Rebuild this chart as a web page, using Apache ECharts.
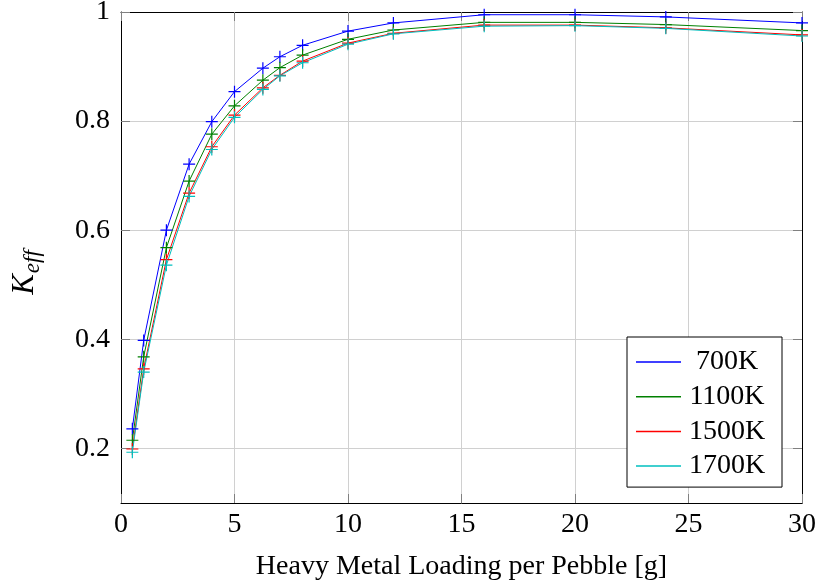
<!DOCTYPE html>
<html><head><meta charset="utf-8">
<script src="https://cdn.jsdelivr.net/npm/echarts@6/dist/echarts.min.js"></script>
<style>html,body{margin:0;padding:0;background:#fff}#c{width:817px;height:588px}</style>
</head><body><div id="c"></div>
<script>
const loading = [0.5, 1, 2, 3, 4, 5, 6.25, 7, 8, 10, 12, 16, 20, 24, 30];
const k700  = [0.236, 0.398, 0.600, 0.721, 0.799, 0.854, 0.897, 0.918, 0.939, 0.965, 0.980, 0.995, 0.995, 0.991, 0.980];
const k1100 = [0.215, 0.368, 0.568, 0.690, 0.776, 0.828, 0.875, 0.898, 0.921, 0.950, 0.967, 0.981, 0.981, 0.977, 0.966];
const k1500 = [0.199, 0.346, 0.546, 0.668, 0.753, 0.811, 0.861, 0.884, 0.910, 0.943, 0.961, 0.976, 0.976, 0.971, 0.958];
const k1700 = [0.193, 0.340, 0.536, 0.662, 0.748, 0.807, 0.858, 0.883, 0.907, 0.941, 0.960, 0.974, 0.975, 0.970, 0.956];
const seriesNames = ['700K', '1100K', '1500K', '1700K'];
const seriesColors = ['#0000ff', '#008000', '#ff0000', '#00bfbf'];
const yTicks = [0.2, 0.4, 0.6, 0.8, 1];
const xTitle = 'Heavy Metal Loading per Pebble [g]';

const FONT = 'Liberation Serif';
const plus = 'path://M0,5.4H5.4V0H6.6V5.4H12V6.6H6.6V12H5.4V6.6H0Z';
const values = [k700, k1100, k1500, k1700];

const tick = {show: true, inside: true, length: 9, lineStyle: {color: '#808080', width: 1}};
const line = {show: true, onZero: false, lineStyle: {color: '#000', width: 1}};
const split = {show: true, lineStyle: {color: '#d0d0d0', width: 1}};

const chart = echarts.init(document.getElementById('c'), null, {renderer: 'canvas'});
chart.setOption({
  backgroundColor: '#fff',
  animation: false,
  grid: {left: 121, right: 15, top: 12, bottom: 85, containLabel: false, outerBoundsMode: 'none'},
  xAxis: [{
    type: 'value', min: 0, max: 30, interval: 5, position: 'bottom',
    name: xTitle, nameLocation: 'middle', nameGap: 50,
    nameTextStyle: {fontFamily: FONT, fontSize: 28, color: '#000'},
    axisLine: line, axisTick: tick, splitLine: split,
    axisLabel: {fontFamily: FONT, fontSize: 28, color: '#000', margin: 8}
  }, {
    type: 'value', min: 0, max: 30, interval: 5, position: 'top',
    axisLine: line, axisTick: tick, splitLine: {show: false}, axisLabel: {show: false}
  }],
  yAxis: [{
    type: 'value', min: 0.1, max: 1, position: 'left',
    name: '{k|K}{s|eff}', nameLocation: 'middle', nameGap: 77, nameRotate: 90,
    nameTextStyle: {padding: [0, 30, 0, 0], rich: {
      k: {fontFamily: FONT, fontStyle: 'italic', fontSize: 31, color: '#000'},
      s: {fontFamily: FONT, fontStyle: 'italic', fontSize: 23, color: '#000', padding: [15, 0, 0, 1]}
    }},
    axisLine: line,
    axisTick: Object.assign({}, tick, {customValues: yTicks}),
    splitLine: split,
    axisLabel: {customValues: yTicks, fontFamily: FONT, fontSize: 28, color: '#000', margin: 11,
      formatter: v => String(+v.toFixed(1))}
  }, {
    type: 'value', min: 0.1, max: 1, position: 'right',
    axisLine: line,
    axisTick: Object.assign({}, tick, {customValues: yTicks}),
    splitLine: {show: false}, axisLabel: {show: false}
  }],
  legend: {
    orient: 'vertical', left: 627, top: 337,
    padding: [11, 14, 7, 9], itemGap: 6.7, itemWidth: 45, itemHeight: 1.5,
    backgroundColor: '#fff', borderColor: '#000', borderWidth: 1, borderRadius: 0,
    icon: 'rect',
    data: seriesNames,
    formatter: n => '{c|' + n + '}',
    textStyle: {fontFamily: FONT, fontSize: 28, color: '#000',
      rich: {c: {fontFamily: FONT, fontSize: 28, color: '#000', width: 82, align: 'center', lineHeight: 24}}}
  },
  series: seriesNames.map((n, i) => ({
    name: n, type: 'line', xAxisIndex: 0, yAxisIndex: 0,
    data: loading.map((x, j) => [x, values[i][j]]),
    symbol: plus, symbolSize: 12, showSymbol: true,
    color: seriesColors[i],
    lineStyle: {color: seriesColors[i], width: 1},
    itemStyle: {color: seriesColors[i], borderWidth: 0},
    emphasis: {disabled: true}
  }))
});
</script></body></html>
